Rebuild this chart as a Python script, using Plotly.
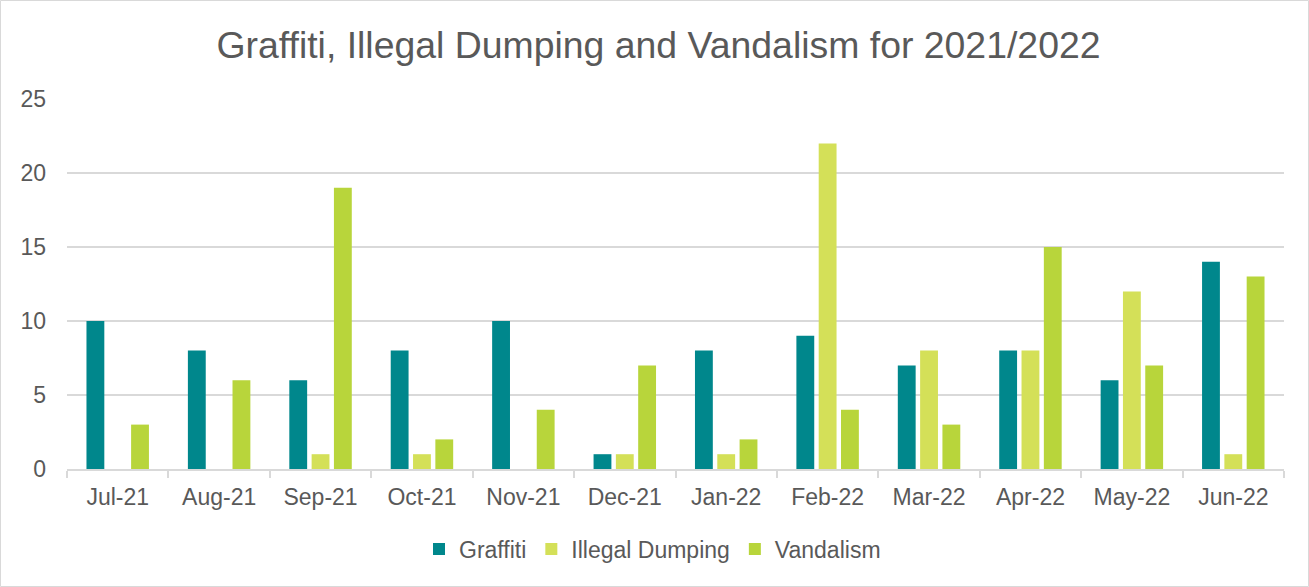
import plotly.graph_objects as go

months = ["Jul-21", "Aug-21", "Sep-21", "Oct-21", "Nov-21", "Dec-21",
          "Jan-22", "Feb-22", "Mar-22", "Apr-22", "May-22", "Jun-22"]
graffiti = [10, 8, 6, 8, 10, 1, 8, 9, 7, 8, 6, 14]
illegal_dumping = [0, 0, 1, 1, 0, 1, 1, 22, 8, 8, 12, 1]
vandalism = [3, 6, 19, 2, 4, 7, 2, 4, 3, 15, 7, 13]
y_ticks = [0, 5, 10, 15, 20, 25]

W, H = 1309, 587
L, R, T, B = 67, 25, 99, 118

FONT = "Liberation Sans, Arial, sans-serif"
TEXT = "#595959"

fig = go.Figure()
for name, vals, col in [
    ("Graffiti", graffiti, "#00878C"),
    ("Illegal Dumping", illegal_dumping, "#D4E058"),
    ("Vandalism", vandalism, "#B8D53B"),
]:
    fig.add_trace(go.Bar(x=months, y=vals, name=name,
                         marker=dict(color=col, line=dict(width=0))))

# outer chart frame
pw, ph = W - L - R, H - T - B
fig.add_shape(type="rect", xref="paper", yref="paper",
              x0=(0.5 - L) / pw, x1=(W - 0.5 - L) / pw,
              y0=-(B - 0.5) / ph, y1=1 + (T - 0.5) / ph,
              line=dict(color="#D9D9D9", width=1), fillcolor="rgba(0,0,0,0)",
              layer="below")

fig.update_layout(
    width=W, height=H,
    margin=dict(l=L, r=R, t=T, b=B),
    paper_bgcolor="white", plot_bgcolor="white",
    barmode="group", bargap=0.34, bargroupgap=0.2,
    font=dict(family=FONT, color=TEXT, size=23),
    title=dict(text="Graffiti, Illegal Dumping and Vandalism for 2021/2022",
               x=(658.5 - L) / pw, xref="paper", xanchor="center",
               y=1 - 45 / H, yanchor="middle",
               font=dict(size=37.4, color=TEXT, family=FONT)),
    xaxis=dict(type="category", showgrid=False, showline=True,
               linecolor="#D9D9D9", linewidth=1.5,
               ticks="outside", tickson="boundaries", ticklen=7,
               tickcolor="#D9D9D9", tickwidth=1.5, ticklabelstandoff=7,
               tickfont=dict(size=23, color=TEXT), fixedrange=True),
    yaxis=dict(range=[0, 25], tickvals=y_ticks, showgrid=True,
               gridcolor="#D9D9D9", gridwidth=1.5, zeroline=False,
               showline=False, ticks="", ticklabelstandoff=20,
               tickfont=dict(size=23, color=TEXT), fixedrange=True),
    legend=dict(orientation="h", x=(652.5 - L) / pw, xanchor="center",
                y=-(549 - 469) / ph, yanchor="middle",
                font=dict(size=23, color=TEXT), itemwidth=30,
                traceorder="normal"),
    showlegend=True,
)

fig.write_html("out.html")
